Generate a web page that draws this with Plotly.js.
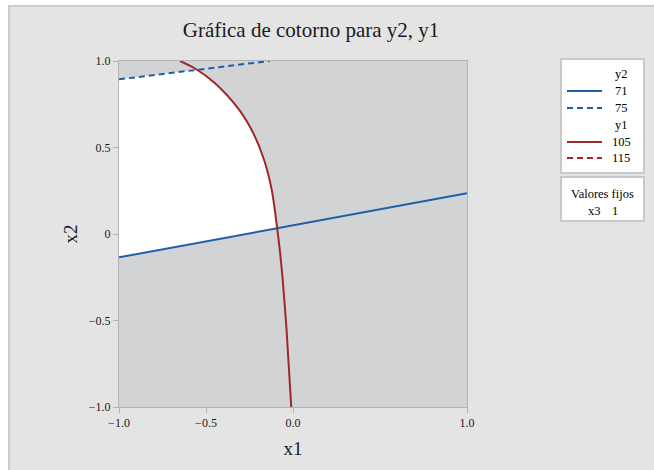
<!DOCTYPE html>
<html>
<head>
<meta charset="utf-8">
<script src="https://cdn.plot.ly/plotly-3.0.1.min.js"></script>
<style>
  html, body { margin: 0; padding: 0; background: #ffffff; width: 654px; height: 470px; overflow: hidden; }
  #wrap { position: absolute; left: 8px; top: 5px; width: 644px; height: 463px;
          border-left: 2px solid #cccccc; border-top: 2px solid #cccccc; }
  #chart { width: 644px; height: 463px; }
</style>
</head>
<body>
<div id="wrap"><div id="chart"></div></div>
<script>
// ---- data ----
const y2Levels = [71, 75];
const y1Levels = [105, 115];
// y2 = 71 contour (solid blue)
const y2_71_x = [-1.0, 1.0];
const y2_71_y = [-0.135, 0.235];
// y2 = 75 contour (dashed blue)
const y2_75_x = [-1.0, -0.135];
const y2_75_y = [0.894, 1.0];
// y1 = 105 contour (solid red)
const y1_105_x = [-0.649, -0.565, -0.448, -0.309, -0.228, -0.166, -0.122, -0.092, -0.076, -0.059, -0.037, -0.010];
const y1_105_y = [1.0, 0.958, 0.871, 0.717, 0.582, 0.428, 0.254, 0.042, -0.092, -0.266, -0.555, -1.0];
// y1 = 115 contour lies outside the plotted region
const y1_115_x = [];
const y1_115_y = [];
const fixedName = "x3";
const fixedValue = 1;
const xTicks = [-1.0, -0.5, 0.0, 1.0];
const xTickText = ["\u22121.0", "\u22120.5", "0.0", "1.0"];
const yTicks = [-1.0, -0.5, 0, 0.5, 1.0];
const yTickText = ["\u22121.0", "\u22120.5", "0", "0.5", "1.0"];

// ---- feasible (white) region, derived from the contour arrays ----
function segInt(ax, ay, bx, by, cx, cy, dx, dy) {
  const r1x = bx - ax, r1y = by - ay, r2x = dx - cx, r2y = dy - cy;
  const den = r1x * r2y - r1y * r2x;
  if (Math.abs(den) < 1e-12) return null;
  const t = ((cx - ax) * r2y - (cy - ay) * r2x) / den;
  const u = ((cx - ax) * r1y - (cy - ay) * r1x) / den;
  if (t < 0 || t > 1 || u < 0 || u > 1) return null;
  return {x: ax + t * r1x, y: ay + t * r1y, i: 0};
}
function curveLineInt(cx, cy, lx, ly) {
  for (let i = 0; i < cx.length - 1; i++) {
    for (let j = 0; j < lx.length - 1; j++) {
      const p = segInt(cx[i], cy[i], cx[i+1], cy[i+1], lx[j], ly[j], lx[j+1], ly[j+1]);
      if (p) { p.i = i; p.j = j; return p; }
    }
  }
  return null;
}
const A = curveLineInt(y1_105_x, y1_105_y, y2_75_x, y2_75_y);
const B = curveLineInt(y1_105_x, y1_105_y, y2_71_x, y2_71_y);
const polyX = [], polyY = [];
polyX.push(y2_71_x[0]); polyY.push(y2_71_y[0]);
polyX.push(y2_75_x[0]); polyY.push(y2_75_y[0]);
polyX.push(A.x); polyY.push(A.y);
for (let i = A.i + 1; i <= B.i; i++) { polyX.push(y1_105_x[i]); polyY.push(y1_105_y[i]); }
polyX.push(B.x); polyY.push(B.y);
polyX.push(y2_71_x[0]); polyY.push(y2_71_y[0]);

const BLUE = "#1f5faa";
const RED = "#a0282b";
const FONT = "Liberation Serif, DejaVu Serif, serif";

const traces = [
  {x: polyX, y: polyY, type: "scatter", mode: "lines", fill: "toself",
   fillcolor: "#ffffff", line: {width: 0}, hoverinfo: "skip", showlegend: false},
  {x: y2_71_x, y: y2_71_y, type: "scatter", mode: "lines",
   line: {color: BLUE, width: 2}, showlegend: false},
  {x: y2_75_x, y: y2_75_y, type: "scatter", mode: "lines",
   line: {color: BLUE, width: 2, dash: "6px,4px"}, showlegend: false},
  {x: y1_105_x, y: y1_105_y, type: "scatter", mode: "lines",
   line: {color: RED, width: 2, shape: "spline", smoothing: 0.8}, showlegend: false},
  {x: y1_115_x, y: y1_115_y, type: "scatter", mode: "lines",
   line: {color: RED, width: 2, dash: "6px,4px"}, showlegend: false}
];

// ---- manual legend (Minitab style) ----
const L = 109, T = 54, W = 348, H = 346;   // plot area in px within the div
function px2x(px) { return (px - 119) / W; }
function py2y(py) { return (407 - py) / H; }
const shapes = [];
const annotations = [];
const tf = {family: FONT, size: 12.5, color: "#000000"};

shapes.push({type: "rect", xref: "paper", yref: "paper",
  x0: px2x(561), x1: px2x(644), y0: py2y(59), y1: py2y(173),
  fillcolor: "#ffffff", line: {color: "#c8c8c8", width: 2}, layer: "below"});
shapes.push({type: "rect", xref: "paper", yref: "paper",
  x0: px2x(561), x1: px2x(644), y0: py2y(177), y1: py2y(221),
  fillcolor: "#ffffff", line: {color: "#c8c8c8", width: 2}, layer: "below"});

const entries = [
  {head: "y2"},
  {lv: y2Levels[0], color: BLUE, dash: "solid"},
  {lv: y2Levels[1], color: BLUE, dash: "6px,4px"},
  {head: "y1"},
  {lv: y1Levels[0], color: RED, dash: "solid"},
  {lv: y1Levels[1], color: RED, dash: "6px,4px"}
];
const rowY = [74, 91, 108, 125, 142, 158];
entries.forEach((e, k) => {
  const yy = py2y(rowY[k]);
  if (e.head) {
    annotations.push({xref: "paper", yref: "paper", x: px2x(621), y: yy, text: e.head,
      showarrow: false, xanchor: "center", yanchor: "middle", font: tf});
  } else {
    shapes.push({type: "line", xref: "paper", yref: "paper",
      x0: px2x(567), x1: px2x(602), y0: yy, y1: yy,
      line: {color: e.color, width: 2, dash: e.dash}});
    annotations.push({xref: "paper", yref: "paper", x: px2x(621), y: yy, text: String(e.lv),
      showarrow: false, xanchor: "center", yanchor: "middle", font: tf});
  }
});
annotations.push({xref: "paper", yref: "paper", x: px2x(602), y: py2y(194), text: "Valores fijos",
  showarrow: false, xanchor: "center", yanchor: "middle", font: tf});
annotations.push({xref: "paper", yref: "paper", x: px2x(594), y: py2y(211), text: fixedName,
  showarrow: false, xanchor: "center", yanchor: "middle", font: tf});
annotations.push({xref: "paper", yref: "paper", x: px2x(615), y: py2y(211), text: String(fixedValue),
  showarrow: false, xanchor: "center", yanchor: "middle", font: tf});

const layout = {
  width: 644, height: 463,
  margin: {l: L, t: T, r: 644 - L - W, b: 463 - T - H, pad: 0},
  paper_bgcolor: "#e4e4e4",
  plot_bgcolor: "#d2d3d5",
  font: {family: FONT, color: "#000000"},
  title: {text: "Gráfica de cotorno para y2, y1", font: {family: FONT, size: 21, color: "#1a1a1a"},
          x: px2x(311), xref: "paper", xanchor: "center", y: 1 - (30 - 7) / 463, yanchor: "middle"},
  xaxis: {range: [-1, 1], tickvals: xTicks, ticktext: xTickText, ticks: "outside", ticklen: 5,
          tickcolor: "#b4b4b4", tickfont: {family: FONT, size: 12, color: "#1a1a1a"},
          showgrid: false, zeroline: false, showline: true, linecolor: "#b4b4b4", linewidth: 1, mirror: true,
          title: {text: "x1", font: {family: FONT, size: 19, color: "#1a1a1a"}, standoff: 12}},
  yaxis: {range: [-1, 1], tickvals: yTicks, ticktext: yTickText, ticks: "outside", ticklen: 5,
          tickcolor: "#b4b4b4", tickfont: {family: FONT, size: 12, color: "#1a1a1a"},
          showgrid: false, zeroline: false, showline: true, linecolor: "#b4b4b4", linewidth: 1, mirror: true,
          title: {text: "x2", font: {family: FONT, size: 19, color: "#1a1a1a"}, standoff: 6}},
  shapes: shapes,
  annotations: annotations,
  showlegend: false
};
Plotly.newPlot("chart", traces, layout, {displayModeBar: false, staticPlot: true});
</script>
</body>
</html>
